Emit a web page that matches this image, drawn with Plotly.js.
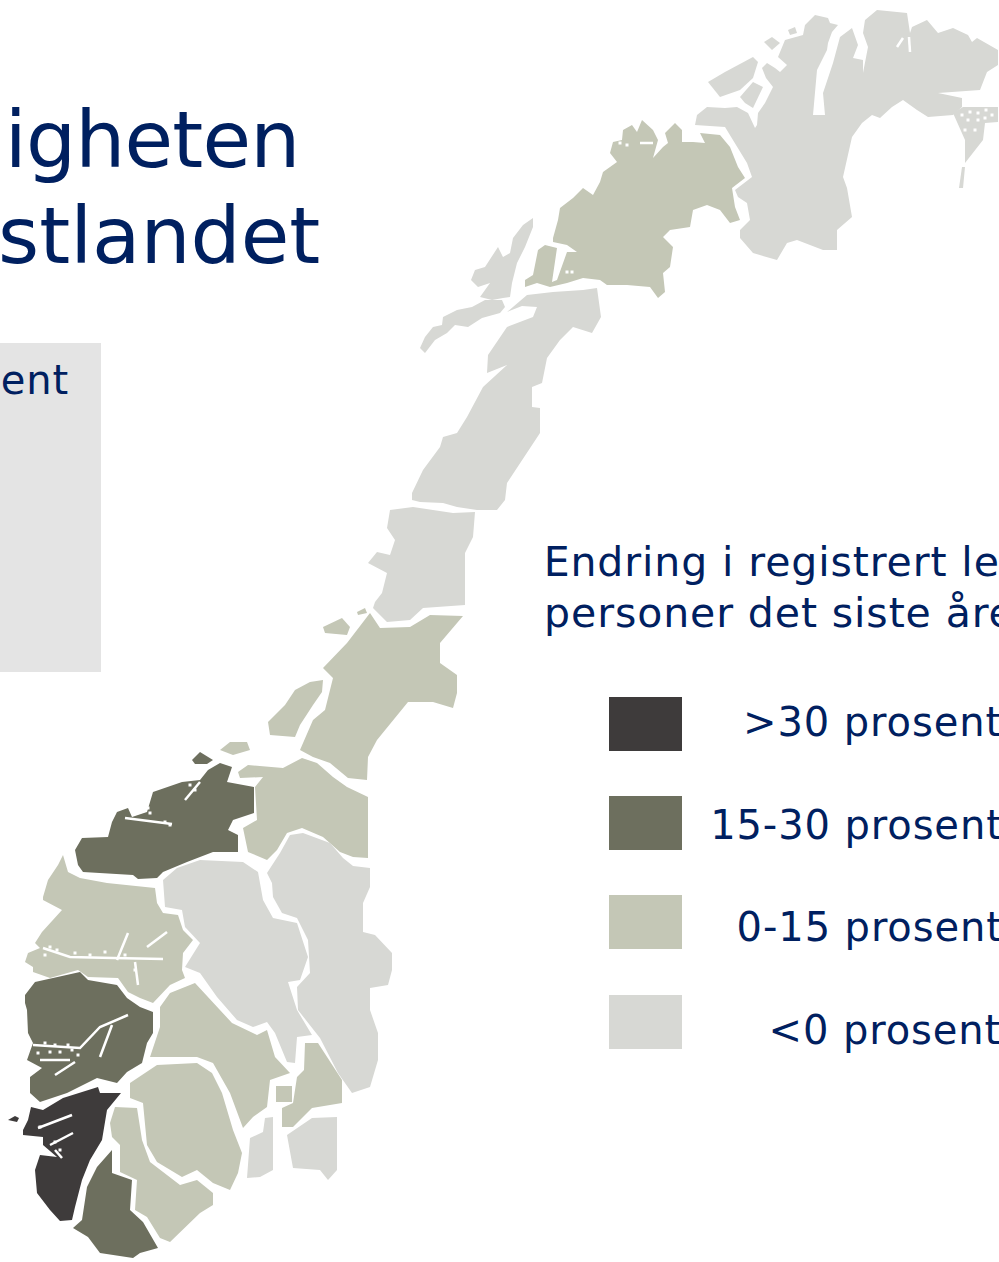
<!DOCTYPE html>
<html><head><meta charset="utf-8">
<script src="https://cdn.plot.ly/plotly-3.0.1.min.js"></script>
<style>html,body{margin:0;padding:0;background:#fff;overflow:hidden}
.annotation[data-index="0"] text{letter-spacing:-0.8px}
.annotation[data-index="2"] text{letter-spacing:0.9px}
.annotation[data-index="3"] text,.annotation[data-index="4"] text{letter-spacing:0.9px}
.annotation[data-index="5"] text,.annotation[data-index="6"] text,.annotation[data-index="7"] text,.annotation[data-index="8"] text{letter-spacing:0.9px}
</style></head>
<body><div id="chart" style="width:999px;height:1262px"></div>
<script>
// Colour classes
const classLabels = [">30 prosent", "15-30 prosent", "0-15 prosent", "<0 prosent"];
const classColors = ["#3e3b3b", "#6d6f5e", "#c4c7b6", "#d7d8d4"];
const legendTitle = ["Endring i registrert le", "personer det siste åre"];

// Region outlines
const rogaland=[[31,1107],[43,1110],[63,1098],[98,1087],[100,1093],[121,1093],[107,1110],[102,1140],[90,1160],[82,1180],[75,1207],[72,1220],[60,1221],[50,1210],[37,1193],[35,1170],[40,1155],[57,1157],[43,1145],[43,1137],[23,1135],[23,1130],[28,1120]];
const rogalandIslet=[[8,1120],[15,1116],[19,1118],[17,1122]];
const more=[[75,850],[82,838],[108,837],[112,822],[117,812],[128,808],[132,817],[147,812],[153,792],[182,782],[200,780],[208,770],[220,763],[232,767],[227,782],[254,787],[254,813],[233,820],[228,830],[238,835],[238,852],[213,852],[187,862],[163,872],[157,878],[138,879],[133,875],[83,872],[78,865]];
const moreIsland=[[192,760],[200,752],[213,760],[207,764],[195,764]];
const hordaland=[[25,995],[35,982],[53,978],[80,972],[88,980],[117,985],[127,998],[140,1007],[153,1012],[153,1033],[147,1043],[142,1063],[127,1072],[117,1083],[97,1078],[67,1093],[40,1102],[30,1093],[30,1077],[42,1068],[27,1060],[33,1043],[28,1033],[27,1010],[25,1003]];
const vestAgder=[[112,1150],[112,1173],[132,1180],[130,1210],[143,1222],[158,1248],[140,1253],[133,1258],[100,1253],[88,1237],[73,1228],[82,1220],[87,1187],[97,1167]];
const sogn=[[43,897],[48,880],[58,865],[63,855],[68,872],[80,878],[107,883],[155,888],[157,903],[163,913],[178,915],[183,930],[193,940],[183,953],[182,970],[185,978],[170,985],[153,1003],[140,998],[128,992],[118,978],[88,977],[78,970],[50,978],[33,972],[33,967],[25,962],[28,953],[40,948],[35,943],[42,932],[62,910],[43,900]];
const austAgder=[[115,1107],[137,1108],[142,1140],[150,1162],[180,1185],[197,1180],[213,1193],[213,1205],[200,1213],[170,1242],[160,1238],[147,1217],[135,1210],[137,1180],[120,1172],[120,1145],[112,1137],[110,1123]];
const telemark=[[130,1083],[157,1065],[197,1063],[212,1073],[222,1093],[233,1130],[242,1153],[238,1173],[230,1190],[213,1183],[197,1170],[182,1177],[157,1162],[147,1145],[143,1103],[130,1098]];
const buskerud=[[195,983],[213,1003],[232,1023],[257,1035],[267,1030],[275,1057],[290,1073],[270,1080],[267,1107],[253,1117],[243,1128],[230,1093],[213,1063],[197,1057],[150,1057],[160,1027],[160,1007],[170,993]];
const oslo=[[276,1086],[292,1086],[292,1102],[276,1102]];
const akershus=[[305,1043],[318,1043],[342,1080],[342,1103],[312,1108],[293,1127],[282,1127],[282,1108],[293,1103],[297,1077],[304,1070]];
const sorTrondelag=[[248,765],[283,768],[302,758],[317,763],[333,777],[347,787],[368,797],[368,858],[353,857],[340,852],[323,837],[302,828],[287,833],[277,850],[267,860],[248,852],[243,828],[257,820],[255,787],[263,777],[240,778],[238,772]];
const hitra=[[220,750],[230,742],[247,742],[250,750],[233,755]];
const nordTrondelag=[[323,668],[347,643],[370,613],[380,628],[410,627],[430,615],[463,616],[440,643],[440,663],[457,675],[457,693],[453,708],[433,702],[408,702],[377,740],[368,757],[367,780],[348,778],[330,763],[313,757],[300,750],[313,720],[325,710],[333,678]];
const fosen=[[323,680],[322,692],[313,705],[300,725],[295,737],[270,735],[268,722],[285,705],[295,690],[310,682]];
const vikna=[[323,627],[342,618],[350,627],[347,635],[325,633]];
const leka=[[357,612],[365,608],[367,613],[358,615]];
const nordlandNorth=[[525,287],[525,280],[533,275],[538,250],[545,245],[557,248],[552,282],[557,280],[567,252],[577,252],[567,245],[553,242],[553,238],[558,220],[560,208],[573,198],[583,188],[593,195],[600,182],[603,172],[617,162],[610,153],[613,142],[622,140],[623,130],[632,125],[637,132],[642,120],[653,130],[658,140],[653,158],[663,147],[668,143],[665,133],[675,123],[682,130],[682,142],[693,142],[705,143],[700,133],[720,135],[730,147],[738,167],[745,178],[732,188],[735,207],[740,220],[730,223],[720,210],[707,205],[693,210],[690,227],[670,230],[663,237],[673,247],[670,267],[663,273],[665,292],[658,298],[650,287],[627,285],[607,285],[600,280],[583,278],[567,283],[550,287],[537,283]];
const oppland=[[163,880],[177,868],[200,860],[243,862],[258,872],[263,900],[273,918],[297,923],[308,957],[300,980],[288,982],[297,1010],[312,1035],[297,1037],[295,1063],[287,1062],[275,1033],[267,1022],[253,1027],[237,1020],[217,997],[200,973],[185,967],[200,943],[185,927],[182,910],[165,907]];
const hedmark=[[267,873],[280,853],[290,835],[303,833],[330,843],[343,858],[353,866],[370,868],[370,887],[363,903],[363,932],[375,935],[392,953],[392,970],[388,985],[370,988],[370,1010],[378,1033],[378,1060],[370,1087],[352,1093],[338,1073],[320,1038],[298,1010],[297,987],[310,973],[308,940],[297,918],[282,913],[273,897],[272,883]];
const ostfold=[[312,1118],[337,1117],[337,1170],[328,1180],[320,1170],[293,1168],[287,1135]];
const vestfold=[[250,1138],[263,1132],[265,1118],[273,1117],[273,1170],[260,1177],[247,1178]];
const helgeland=[[390,510],[413,507],[453,513],[475,512],[473,537],[465,553],[465,605],[423,608],[410,620],[387,622],[373,608],[375,602],[382,593],[387,573],[368,563],[377,552],[390,555],[395,540],[387,528]];
const saltenNordland=[[412,493],[423,470],[440,447],[443,437],[457,433],[467,417],[483,387],[507,365],[487,373],[488,355],[507,327],[533,317],[537,307],[522,306],[507,312],[527,295],[553,292],[583,290],[597,288],[601,317],[592,333],[573,327],[560,340],[547,358],[542,383],[532,387],[532,407],[540,408],[540,433],[507,483],[505,500],[497,510],[477,510],[457,507],[443,503],[420,502],[412,500]];
const lofoten=[[420,348],[425,337],[433,327],[442,325],[443,317],[457,310],[472,307],[485,300],[502,300],[505,307],[500,313],[482,318],[468,327],[455,325],[447,333],[435,340],[425,353]];
const vesteralen=[[471,280],[475,270],[485,267],[498,247],[503,257],[510,253],[513,238],[523,225],[533,218],[533,227],[525,247],[517,263],[512,283],[510,297],[503,298],[492,300],[480,297],[490,283],[478,287]];
const finnmark=[[740,230],[750,220],[747,203],[738,197],[735,190],[752,177],[747,163],[737,147],[725,127],[695,125],[697,115],[707,107],[725,108],[737,107],[748,113],[755,128],[757,125],[758,113],[765,103],[773,87],[766,78],[762,68],[767,63],[775,68],[780,72],[787,65],[778,57],[785,40],[803,35],[805,25],[815,15],[828,18],[830,23],[838,25],[832,32],[828,43],[827,50],[817,70],[813,115],[825,115],[823,93],[833,63],[840,37],[852,28],[858,45],[853,58],[863,60],[863,73],[868,47],[863,33],[865,20],[877,10],[907,13],[910,33],[912,27],[927,20],[938,33],[953,28],[968,35],[972,42],[977,38],[998,50],[998,65],[987,72],[980,90],[938,93],[962,98],[962,107],[953,115],[928,117],[917,110],[903,100],[892,107],[880,118],[872,115],[862,123],[852,137],[843,177],[847,188],[852,217],[837,230],[837,250],[823,250],[797,240],[787,243],[777,260],[753,253],[740,238]];
const varanger=[[953,113],[963,107],[998,107],[998,122],[985,123],[983,140],[965,163],[965,140]];
const varangerStrip=[[962,167],[965,167],[963,188],[959,188]];
const senja=[[708,82],[725,72],[753,57],[758,62],[753,78],[740,90],[720,97],[713,88]];
const kvaloya=[[740,97],[753,82],[763,87],[753,108],[745,103]];
const vannoya=[[764,42],[772,37],[780,43],[772,50]];
const arnoya=[[788,30],[795,27],[797,33],[790,35]];

// Fjords: thin white lines over the land
const fjords=[
 [[43,948],[70,957],[113,958],[163,959]],[[135,962],[138,985]],[[117,960],[128,933]],[[147,947],[167,932]],
 [[33,1045],[80,1048],[100,1027],[128,1015]],[[100,1057],[112,1025]],[[55,1075],[75,1062]],[[40,1060],[70,1060]],
 [[38,1128],[72,1115]],[[50,1145],[73,1133]],[[55,1150],[62,1158]],
 [[185,800],[200,782]],[[125,818],[172,824]],[[640,143],[653,143]],[[897,47],[903,38]],[[909,37],[910,52]]
];
const specks=[[50,947],[57,950],[45,955],[75,953],[90,955],[105,952],[125,955],[135,970],[45,1043],[55,1045],[60,1052],[72,1050],[78,1055],[68,1045],[50,1052],[38,1053],[195,790],[190,785],[148,808],[150,813],[165,822],[170,825],[55,1142],[60,1150],[40,1127],[962,115],[970,112],[978,113],[986,110],[992,115],[968,120],[975,130],[978,120],[965,130],[985,118],[620,143],[627,145],[567,272],[572,272]];

// class index of every region: 0 >30, 1 15-30, 2 0-15, 3 <0
const groups=[
 [rogaland,rogalandIslet],
 [more,moreIsland,hordaland,vestAgder],
 [sogn,austAgder,telemark,buskerud,oslo,akershus,sorTrondelag,hitra,nordTrondelag,fosen,vikna,leka,nordlandNorth],
 [oppland,hedmark,ostfold,vestfold,helgeland,saltenNordland,lofoten,vesteralen,finnmark,varanger,varangerStrip,senja,kvaloya,vannoya,arnoya]
];

const traces=[];
groups.forEach((regs,i)=>regs.forEach(r=>traces.push({
  type:"scatter",mode:"lines",x:r.map(p=>p[0]).concat(r[0][0]),y:r.map(p=>p[1]).concat(r[0][1]),
  fill:"toself",fillcolor:classColors[i],line:{width:0,color:classColors[i]},hoverinfo:"skip",showlegend:false
})));
fjords.forEach(f=>traces.push({type:"scatter",mode:"lines",x:f.map(p=>p[0]),y:f.map(p=>p[1]),
  line:{color:"#ffffff",width:2.5},hoverinfo:"skip",showlegend:false}));
traces.push({type:"scatter",mode:"markers",x:specks.map(p=>p[0]),y:specks.map(p=>p[1]),
  marker:{symbol:"square",size:3,color:"#ffffff",line:{width:0}},hoverinfo:"skip",showlegend:false});

const navy="#002060", fam="DejaVu Sans, Verdana, sans-serif";
const ann=(text,x,y,size,anchor)=>({text,x,y,xref:"x",yref:"y",xanchor:anchor,yanchor:"middle",showarrow:false,font:{family:fam,size,color:navy}});
const swatchY=[697,796,895,995];
const shapes=[{type:"rect",xref:"x",yref:"y",x0:0,x1:101,y0:343,y1:672,fillcolor:"#e4e4e4",line:{width:0},layer:"below"}]
 .concat(swatchY.map((y,i)=>({type:"rect",xref:"x",yref:"y",x0:609,x1:682,y0:y,y1:y+54,fillcolor:classColors[i],line:{width:0}})));
const labelY=[722,825,927,1030];
const annotations=[
 ann("igheten",304,140,79,"right"),ann("stlandet",322,236,79,"right"),ann("ent",70,380,40,"right"),
 ann(legendTitle[0],551.6,562,41,"left"),ann(legendTitle[1],551.6,613,41,"left")
].concat(classLabels.map((t,i)=>ann(t,999,labelY[i],40,"right")));

Plotly.newPlot("chart",traces,{
  width:999,height:1262,margin:{l:0,r:0,t:0,b:0},paper_bgcolor:"#fff",plot_bgcolor:"#fff",
  xaxis:{range:[0,999],visible:false,fixedrange:true},yaxis:{range:[1262,0],visible:false,fixedrange:true},
  shapes,annotations,showlegend:false
},{displayModeBar:false,staticPlot:true});
</script></body></html>
